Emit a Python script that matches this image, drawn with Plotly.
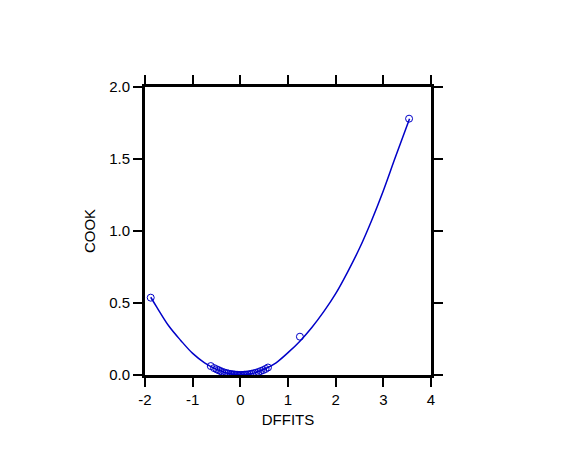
import plotly.graph_objects as go

# Observed points
dffits = [-1.88, -0.62, -0.55, -0.50, -0.46, -0.42, -0.38, -0.33, -0.29, -0.25, -0.21,
          -0.18, -0.15, -0.12, -0.09, -0.06, -0.03, 0.0, 0.03, 0.06, 0.09, 0.12, 0.16,
          0.20, 0.24, 0.28, 0.33, 0.38, 0.43, 0.48, 0.53, 0.58, 1.25, 3.54]
cook = [0.537, 0.062, 0.048, 0.040, 0.034, 0.028, 0.022, 0.017, 0.013, 0.010, 0.007,
        0.005, 0.004, 0.003, 0.002, 0.001, 0.000, 0.000, 0.000, 0.001, 0.002, 0.003, 0.004,
        0.006, 0.009, 0.012, 0.016, 0.021, 0.028, 0.034, 0.042, 0.052, 0.266, 1.78]

# Fitted curve
fit_x = [-1.88, -1.75, -1.5, -1.25, -1.0, -0.75, -0.5, -0.25, 0.0, 0.25, 0.5, 0.75,
         1.0, 1.25, 1.5, 1.75, 2.0, 2.25, 2.5, 2.75, 3.0, 3.25, 3.55]
fit_y = [0.54, 0.47, 0.34, 0.24, 0.15, 0.085, 0.04, 0.01, 0.0, 0.01, 0.04, 0.085,
         0.155, 0.235, 0.33, 0.44, 0.565, 0.715, 0.88, 1.07, 1.28, 1.51, 1.78]

x_ticks = [-2, -1, 0, 1, 2, 3, 4]
y_ticks = [0.0, 0.5, 1.0, 1.5, 2.0]

blue = "#0000C8"
font = "Liberation Sans, Arial, sans-serif"
fig = go.Figure()
fig.add_trace(go.Scatter(x=fit_x, y=fit_y, mode="lines", line=dict(color=blue, width=1.5, shape="spline"),
                         showlegend=False, hoverinfo="skip"))
fig.add_trace(go.Scatter(x=dffits, y=cook, mode="markers",
                         marker=dict(symbol="circle-open", size=7, color=blue, line=dict(width=1, color=blue)),
                         showlegend=False))

axis_common = dict(showgrid=False, zeroline=False, showline=True, linecolor="black", linewidth=3,
                   ticks="outside", ticklen=9, tickwidth=2, tickcolor="black", mirror="allticks",
                   tickfont=dict(family=font, size=15, color="black"),
                   title_font=dict(family=font, size=15, color="black"))

fig.update_xaxes(range=[-2, 4], tickvals=x_ticks, ticktext=[str(v) for v in x_ticks],
                 title_text="DFFITS", title_standoff=8, **axis_common)
fig.update_yaxes(range=[0, 2], tickvals=y_ticks, ticktext=[f"{v:.1f}" for v in y_ticks],
                 title_text="COOK", title_standoff=10, **axis_common)

fig.update_layout(width=576, height=461, margin=dict(l=137, r=153, t=79, b=94),
                  plot_bgcolor="white", paper_bgcolor="white")
fig.write_html("out.html")
